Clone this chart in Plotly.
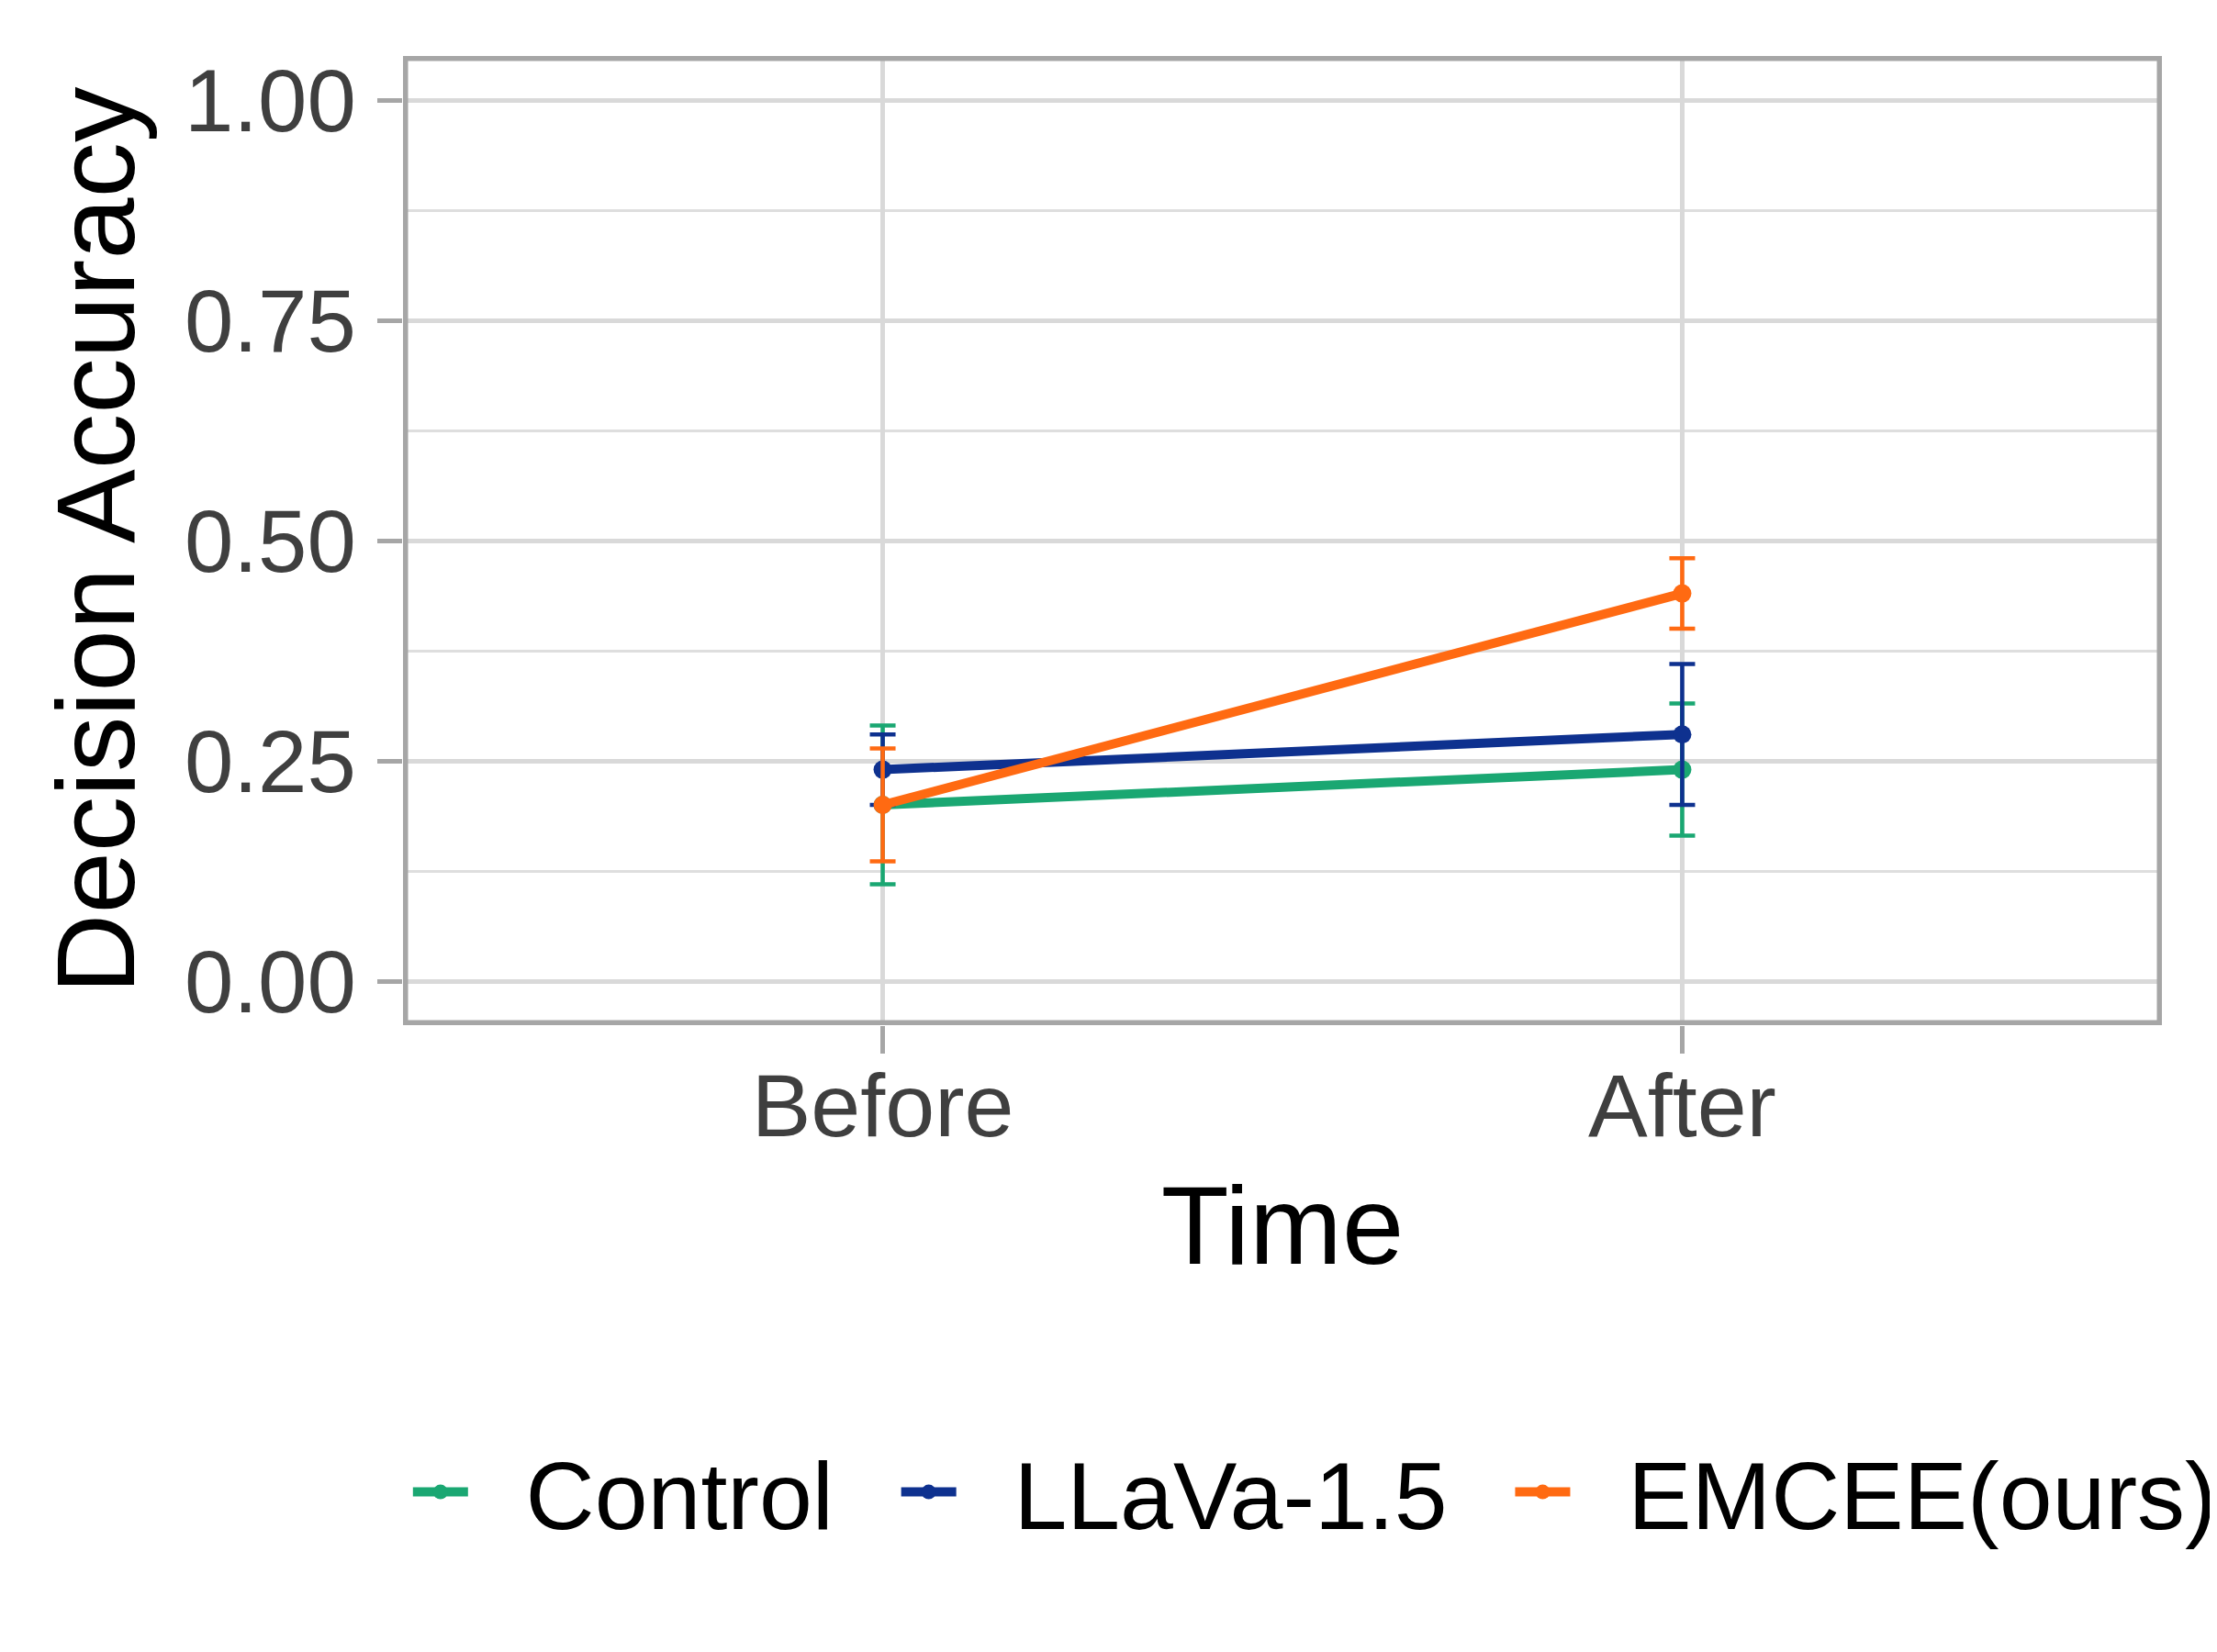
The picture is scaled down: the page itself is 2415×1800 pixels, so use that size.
import plotly.graph_objects as go

times = ["Before", "After"]
series_names = ["Control", "LLaVa-1.5", "EMCEE(ours)"]
control_mean = [0.20, 0.24]
control_err = [0.09, 0.075]
llava_mean = [0.24, 0.28]
llava_err = [0.04, 0.08]
emcee_mean = [0.20, 0.44]
emcee_err = [0.064, 0.04]
colors = ["#1AA772", "#0E318F", "#FF6A12"]

y_ticks = [0.0, 0.25, 0.5, 0.75, 1.0]
y_ticktext = ["0.00", "0.25", "0.50", "0.75", "1.00"]

NB = "\u00a0"
fig = go.Figure()
for i, (name, mean, err, col) in enumerate(zip(series_names,
                                [control_mean, llava_mean, emcee_mean],
                                [control_err, llava_err, emcee_err],
                                colors)):
    trail = NB * 2 if i < len(series_names) - 1 else ""
    fig.add_trace(go.Scatter(
        x=times, y=mean, name=NB * 2 + name + trail, mode="lines+markers",
        line=dict(color=col, width=10),
        marker=dict(color=col, size=20),
        error_y=dict(type="data", array=err, visible=True, color=col,
                     thickness=4.5, width=14),
    ))

grid = "#d9d9d9"
border = "#a6a6a6"
tickcol = "#3f3f3f"
fam = "Liberation Sans, Arial, sans-serif"
bw = 5.5
PW, PH = 1916, 1056

fig.update_layout(
    width=2470, height=1784,
    paper_bgcolor="white", plot_bgcolor="white",
    margin=dict(l=431, r=123, t=53, b=675),
    font=dict(family=fam, color="black"),
    showlegend=True,
    legend=dict(orientation="h", x=-0.0001, xanchor="left", y=-0.482, yanchor="middle",
                font=dict(size=104, color="black", family=fam),
                itemwidth=60, tracegroupgap=0, indentation=6,
                bgcolor="rgba(0,0,0,0)"),
    xaxis=dict(
        type="category", range=[-0.6, 1.6],
        showgrid=True, gridcolor=grid, gridwidth=5,
        showline=False,
        ticks="outside", ticklen=30, tickwidth=5, tickcolor=border,
        tickfont=dict(size=97, color=tickcol, family=fam),
        ticklabelstandoff=-26,
        title=dict(text="Time", font=dict(size=121, color="black", family=fam), standoff=33),
        zeroline=False,
    ),
    yaxis=dict(
        range=[-0.05, 1.05],
        tickvals=y_ticks, ticktext=y_ticktext,
        showgrid=True, gridcolor=grid, gridwidth=5,
        minor=dict(dtick=0.125, tick0=0, showgrid=True, gridcolor="#dedede", gridwidth=2.7),
        showline=False,
        ticks="outside", ticklen=27, tickwidth=5, tickcolor=border,
        tickfont=dict(size=96, color=tickcol, family=fam),
        ticklabelstandoff=4,
        zeroline=False,
    ),
    annotations=[dict(text="Decision Accuracy", textangle=-90, showarrow=False,
                      xref="paper", yref="paper", x=(104 - 439) / PW, y=0.5,
                      xanchor="center", yanchor="middle",
                      font=dict(size=121, color="black", family=fam))],
    shapes=[dict(type="rect", xref="paper", yref="paper",
                 x0=bw / 2 / PW, x1=1 - bw / 2 / PW,
                 y0=bw / 2 / PH, y1=1 - bw / 2 / PH,
                 line=dict(color=border, width=bw), fillcolor="rgba(0,0,0,0)",
                 layer="above")],
)

fig.write_html("out.html")
